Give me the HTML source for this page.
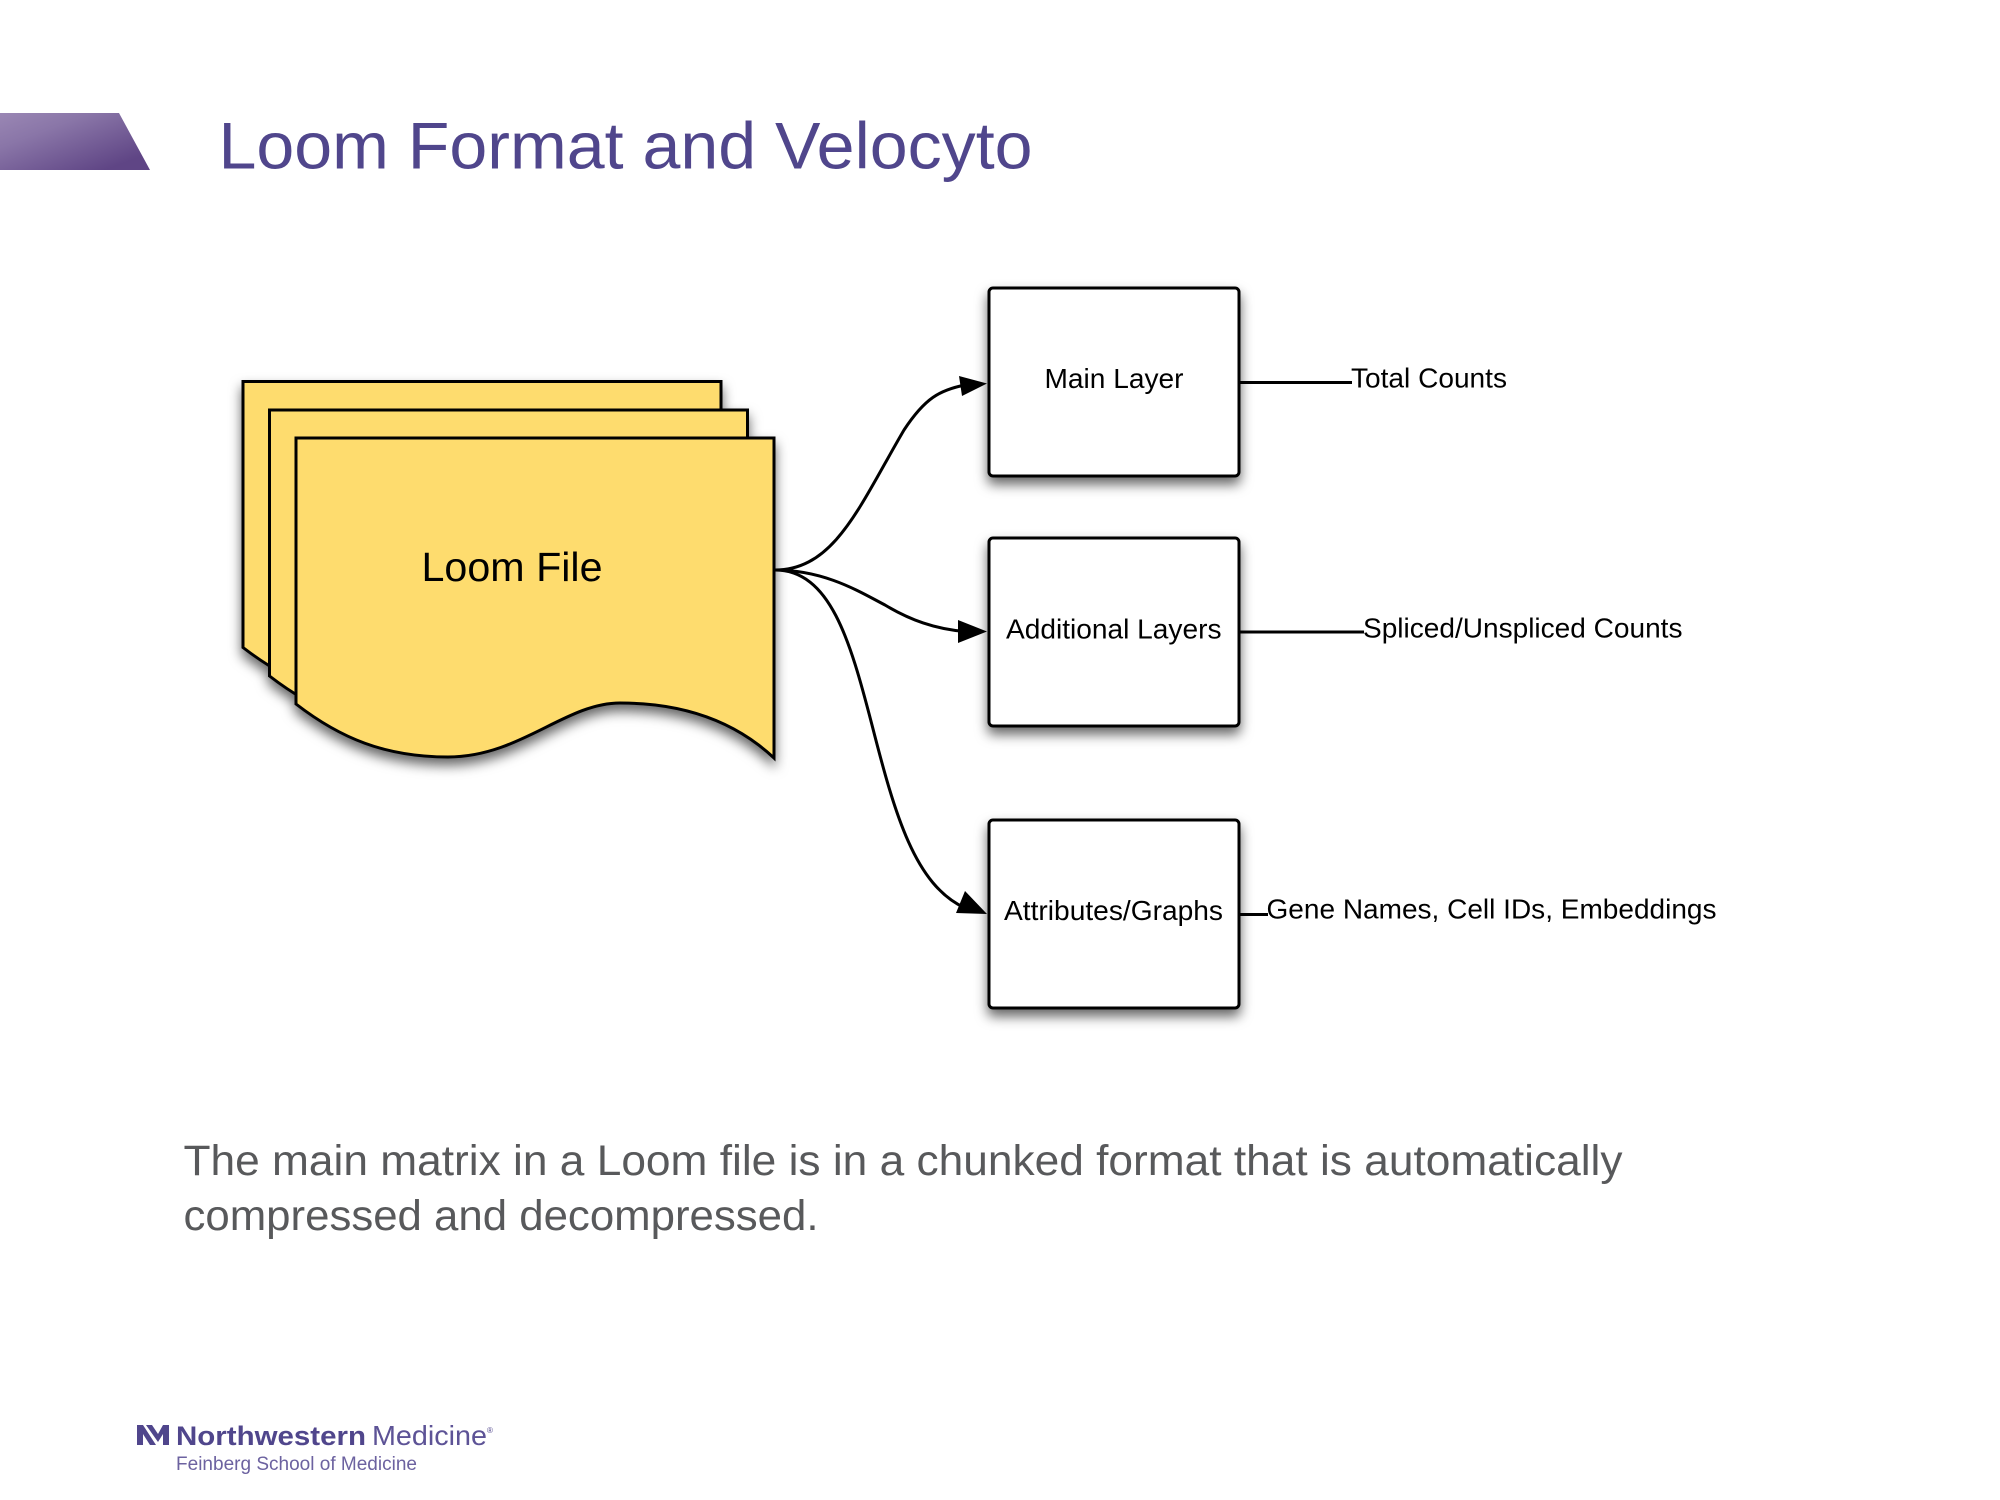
<!DOCTYPE html>
<html><head><meta charset="utf-8"><title>Loom Format and Velocyto</title>
<style>html,body{margin:0;padding:0;background:#fff;width:2000px;height:1500px;overflow:hidden}svg{display:block}text{font-family:"Liberation Sans",Arial,sans-serif}</style>
</head><body>
<svg width="2000" height="1500" viewBox="0 0 2000 1500" xmlns="http://www.w3.org/2000/svg">
<defs>
<linearGradient id="g" x1="0" y1="0" x2="1" y2="1"><stop offset="0" stop-color="#9a87b4"/><stop offset="0.3" stop-color="#8a76a8"/><stop offset="0.85" stop-color="#5f4585"/></linearGradient>
<filter id="s" x="-10%" y="-10%" width="125%" height="125%"><feDropShadow dx="0" dy="7" stdDeviation="6" flood-color="#000" flood-opacity="0.6"/></filter>
<path id="sheet" d="M296,438 H774 V758 C725,712 665,703 620,703 C565,703 520,757 448,757 C385,757 340,738 296,704 Z"/>
</defs>
<polygon points="0,113 119,113 150,170 0,170" fill="url(#g)"/>
<text x="218.5" y="168.5" font-size="66" fill="#50468c" textLength="814" lengthAdjust="spacingAndGlyphs">Loom Format and Velocyto</text>

<g fill="#fedc6e" stroke="#000" stroke-width="3" filter="url(#s)">
<use href="#sheet" transform="translate(-53,-56.5)"/>
<use href="#sheet" transform="translate(-26.5,-28)"/>
<use href="#sheet"/>
</g>
<text x="421.5" y="581" font-size="41" fill="#000" textLength="181" lengthAdjust="spacingAndGlyphs">Loom File</text>

<g fill="none" stroke="#000" stroke-width="3">
<path d="M775,570 C835,570 860,505 904,430 C925,398 940,390 965,385"/>
<path d="M775,570 C825,570 860,592 885,605 C910,620 935,629 965,631.5"/>
<path d="M775,570 C830,570 850,640 872,725 C895,815 915,885 965,908"/>
<path d="M1240,382.5 H1352 M1240,632 H1364 M1240,914.5 H1268"/>
</g>
<g fill="#000">
<polygon points="987,383.5 959,376 962,396"/>
<polygon points="987,631.5 958,620 958,643"/>
<polygon points="987,914 965,891 956,913"/>
</g>

<g fill="#fff" stroke="#000" stroke-width="3" filter="url(#s)">
<rect x="989" y="288" width="250" height="188" rx="4"/>
<rect x="989" y="538" width="250" height="188" rx="4"/>
<rect x="989" y="820" width="250" height="188" rx="4"/>
</g>

<g font-size="27.5" fill="#000">
<text x="1044.5" y="388" textLength="139" lengthAdjust="spacingAndGlyphs">Main Layer</text>
<text x="1006" y="638.5" textLength="215.5" lengthAdjust="spacingAndGlyphs">Additional Layers</text>
<text x="1004" y="920" textLength="219" lengthAdjust="spacingAndGlyphs">Attributes/Graphs</text>
<text x="1351" y="387.5" textLength="156" lengthAdjust="spacingAndGlyphs">Total Counts</text>
<text x="1363" y="637.5" textLength="319.5" lengthAdjust="spacingAndGlyphs">Spliced/Unspliced Counts</text>
<text x="1266.5" y="918.5" textLength="450" lengthAdjust="spacingAndGlyphs">Gene Names, Cell IDs, Embeddings</text>
</g>

<g font-size="43" fill="#58595b">
<text x="183.5" y="1175" textLength="1439" lengthAdjust="spacingAndGlyphs">The main matrix in a Loom file is in a chunked format that is automatically</text>
<text x="183.5" y="1230" textLength="635" lengthAdjust="spacingAndGlyphs">compressed and decompressed.</text>
</g>

<g fill="#50468c">
<polygon points="137,1425 143,1425 156,1445 150,1445 143,1434 143,1445 137,1445"/>
<polygon points="146,1425 152,1425 158,1434 163,1425 169,1425 169,1445 163,1445 163,1434 158,1442"/>
<text x="176" y="1445" font-size="27" font-weight="bold" textLength="190" lengthAdjust="spacingAndGlyphs">Northwestern</text>
<text x="372" y="1445" font-size="28" textLength="115" lengthAdjust="spacingAndGlyphs" fill="#5d5396">Medicine</text>
<text x="487" y="1433" font-size="8">®</text>
<text x="176" y="1470" font-size="19" textLength="241" lengthAdjust="spacingAndGlyphs" fill="#6c62a0">Feinberg School of Medicine</text>
</g>
</svg>
</body></html>
